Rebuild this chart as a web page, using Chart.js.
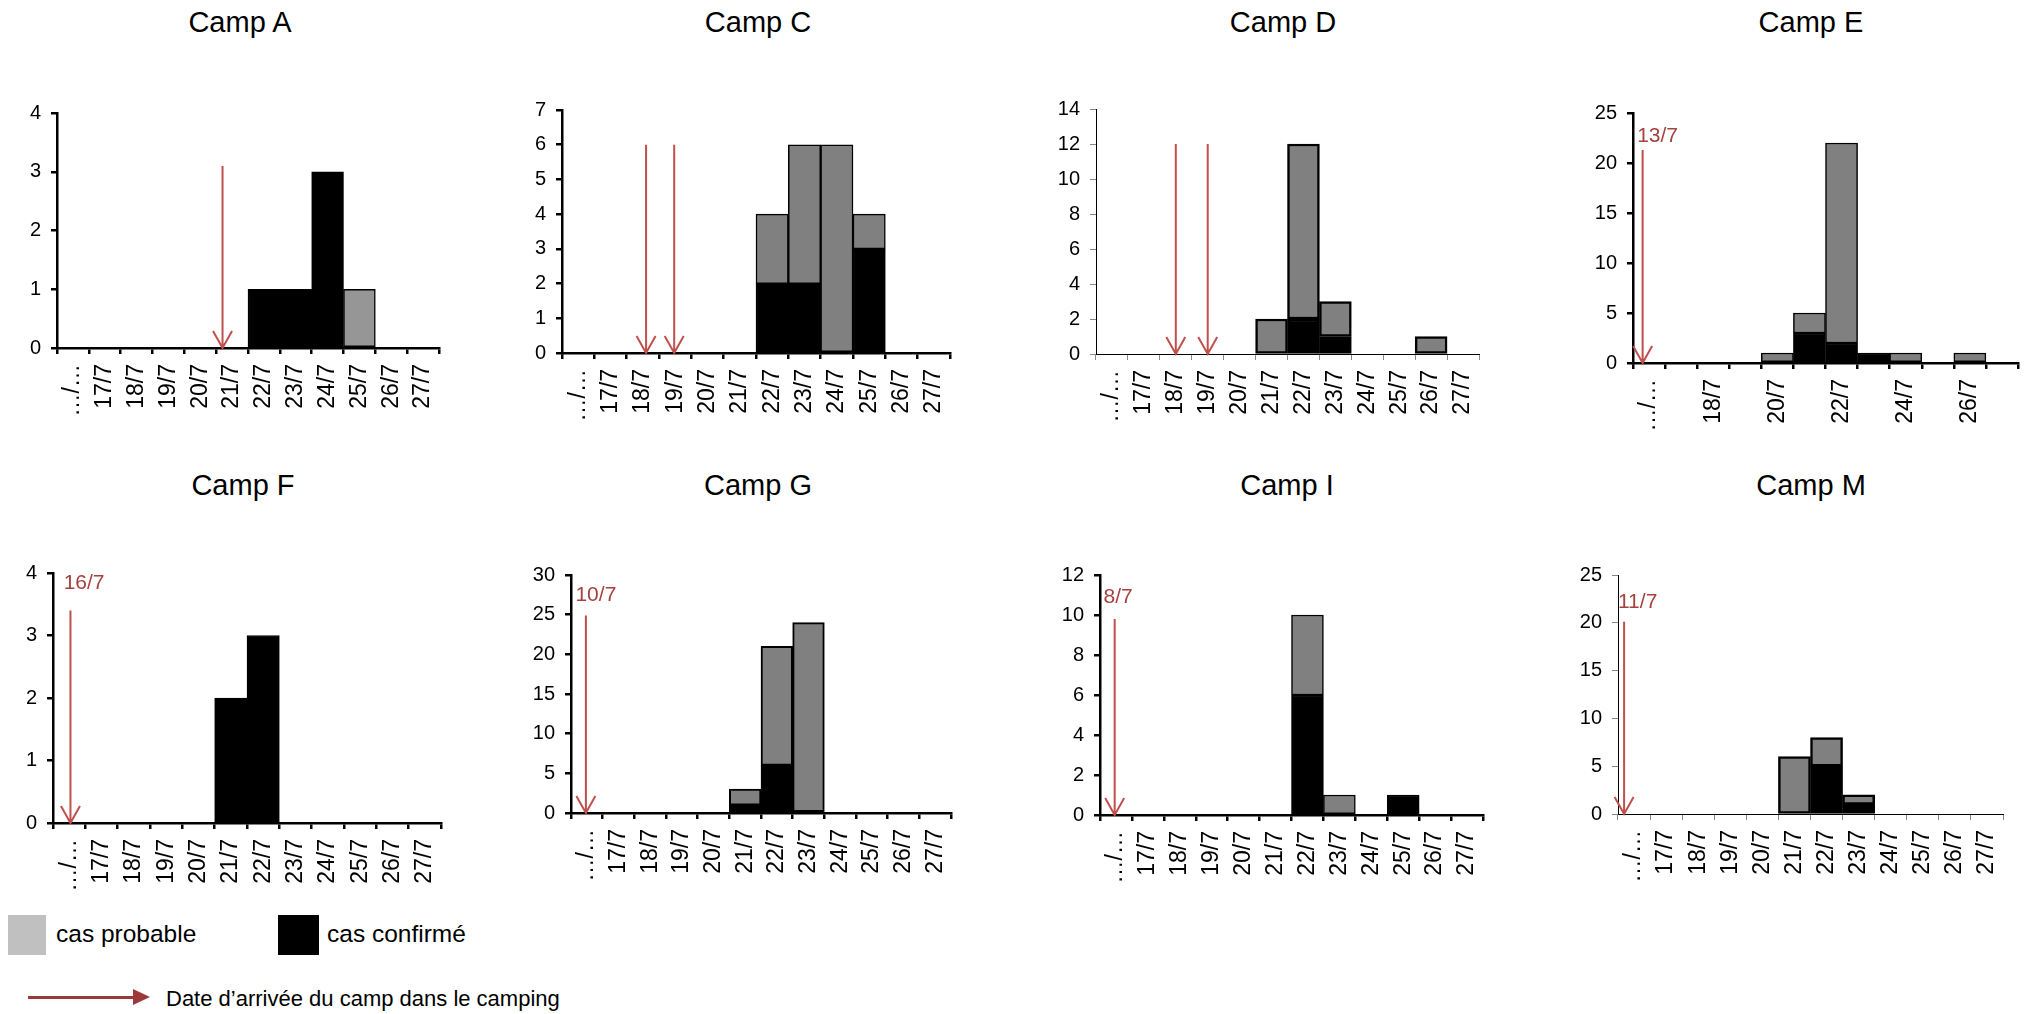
<!DOCTYPE html>
<html lang="fr">
<head>
<meta charset="UTF-8">
<title>Cas par camp</title>
<script src="https://cdn.jsdelivr.net/npm/chart.js"></script>
<style>
  body {
    margin: 0;
    width: 2028px;
    height: 1014px;
    overflow: hidden;
    position: relative;
    background: #fff;
    font-family: 'Liberation Sans', Arial, sans-serif;
  }
  canvas { position: absolute; }
  .title {
    position: absolute; font-size: 29px; line-height: 1; color: #000;
    white-space: nowrap; transform: translateX(-50%);
  }
  .swatch { position: absolute; }
  .lg { position: absolute; line-height: 1; color: #000; white-space: nowrap; }
  .arrowLine { position: absolute; background: #9b3a39; }
  .arrowHead {
    position: absolute; width: 0; height: 0;
    border-top: 8px solid transparent; border-bottom: 8px solid transparent;
    border-left: 17px solid #9b3a39;
  }
</style>
</head>
<body>

<div class="swatch" style="left:8px;top:915px;width:38px;height:40px;background:#c0c0c0"></div>
<div class="lg" style="left:56px;top:922px;font-size:24.5px">cas probable</div>
<div class="swatch" style="left:278px;top:915px;width:41px;height:40px;background:#000"></div>
<div class="lg" style="left:327px;top:922px;font-size:24.5px">cas confirmé</div>
<div class="arrowLine" style="left:28px;top:996px;width:108px;height:3px"></div>
<div class="arrowHead" style="left:133px;top:989px"></div>
<div class="lg" style="left:166px;top:988px;font-size:22px">Date d’arrivée du camp dans le camping</div>

<script>
  const days = ['…/…', '17/7', '18/7', '19/7', '20/7', '21/7', '22/7', '23/7', '24/7', '25/7', '26/7', '27/7'];
  const titles = ['Camp A', 'Camp C', 'Camp D', 'Camp E', 'Camp F', 'Camp G', 'Camp I', 'Camp M'];

  // cases per day, confirmed (black) and probable (grey)
  const confA = [0, 0, 0, 0, 0, 0, 1, 1, 3, 0, 0, 0];
  const probA = [0, 0, 0, 0, 0, 0, 0, 0, 0, 1, 0, 0];
  const confC = [0, 0, 0, 0, 0, 0, 2, 2, 0, 3, 0, 0];
  const probC = [0, 0, 0, 0, 0, 0, 2, 4, 6, 1, 0, 0];
  const confD = [0, 0, 0, 0, 0, 0, 2, 1, 0, 0, 0, 0];
  const probD = [0, 0, 0, 0, 0, 2, 10, 2, 0, 0, 1, 0];
  const confE = [0, 0, 0, 0, 0, 3, 2, 1, 0, 0, 0, 0];
  const probE = [0, 0, 0, 0, 1, 2, 20, 0, 1, 0, 1, 0];
  const confF = [0, 0, 0, 0, 0, 2, 3, 0, 0, 0, 0, 0];
  const probF = [0, 0, 0, 0, 0, 0, 0, 0, 0, 0, 0, 0];
  const confG = [0, 0, 0, 0, 0, 1, 6, 0, 0, 0, 0, 0];
  const probG = [0, 0, 0, 0, 0, 2, 15, 24, 0, 0, 0, 0];
  const confI = [0, 0, 0, 0, 0, 0, 6, 0, 0, 1, 0, 0];
  const probI = [0, 0, 0, 0, 0, 0, 4, 1, 0, 0, 0, 0];
  const confM = [0, 0, 0, 0, 0, 0, 5, 1, 0, 0, 0, 0];
  const probM = [0, 0, 0, 0, 0, 6, 3, 1, 0, 0, 0, 0];

  const confirmed = [confA, confC, confD, confE, confF, confG, confI, confM];
  const probable = [probA, probC, probD, probE, probF, probG, probI, probM];

  const yMax = [4, 7, 14, 25, 4, 30, 12, 25];
  const yStep = [1, 1, 2, 5, 1, 5, 2, 5];
  const labelEvery = [1, 1, 1, 2, 1, 1, 1, 1];

  // arrival arrows, in category index units / case counts
  const arrivalIdx = [[4.7], [2.1, 2.97], [2.0, 3.0], [-0.2], [0.04], [-0.03], [-0.04], [-0.31]];
  const arrivalTop = [3.1, 6, 12, 21.3, 3.4, 24.9, 9.8, 20.1];
  const arrivalText = ['', '', '', '13/7', '16/7', '10/7', '8/7', '11/7'];
  const arrivalTextAt = [null, null, null, [-0.37, 22.7], [-0.17, 3.84], [-0.36, 27.4], [-0.39, 10.9], [-0.5, 22.2]];

  // layout: plot area [left, top, right, bottom] and title centre, page pixels
  const plots = [
    [57, 113, 439, 348], [562, 110, 950, 353], [1096, 109, 1479, 354], [1633, 113, 2018, 363],
    [53, 573, 441, 823], [571, 575, 951, 813], [1100, 575, 1483, 815], [1618, 575, 2003, 814]
  ];
  const titleX = [240, 758, 1283, 1811, 243, 758, 1287, 1811];
  const titleY = [22, 22, 22, 22, 485, 485, 485, 485];
  const rowTop = [0, 0, 0, 0, 440, 440, 440, 440];
  const axisW = [2.5, 2.5, 1, 2.5, 2.5, 2.5, 2.5, 1];
  const edgeW = [1.5, 1.5, 2.5, 1.5, 1, 2, 1.5, 2.5];
  const probColor = ['#969696', '#808080', '#808080', '#808080', '#808080', '#808080', '#808080', '#808080'];

  const FONT = "'Liberation Sans', Arial, sans-serif";
  const NARROW = "'Liberation Sans Narrow', 'Arial Narrow', 'Liberation Sans', sans-serif";
  const Y_W = 50, X_H = 70, PAD_R = 30;

  const arrivalArrows = {
    id: 'arrivalArrows',
    afterDatasetsDraw(chart, args, opts) {
      const { ctx, scales: { x, y } } = chart;
      const tip = y.getPixelForValue(0);
      const top = y.getPixelForValue(opts.top);
      ctx.save();
      ctx.strokeStyle = '#c0504d';
      ctx.lineWidth = 2;
      opts.at.forEach(v => {
        const px = x.getPixelForValue(v);
        ctx.beginPath();
        ctx.moveTo(px, top);
        ctx.lineTo(px, tip);
        ctx.moveTo(px - 9.5, tip - 17);
        ctx.lineTo(px, tip);
        ctx.lineTo(px + 9.5, tip - 17);
        ctx.stroke();
      });
      if (opts.text) {
        ctx.fillStyle = '#a5413f';
        ctx.font = '21px ' + FONT;
        ctx.textBaseline = 'middle';
        ctx.textAlign = 'left';
        ctx.fillText(opts.text, x.getPixelForValue(opts.textAt[0]), y.getPixelForValue(opts.textAt[1]));
      }
      ctx.restore();
    }
  };

  titles.forEach((title, i) => {
    const [L, T, R, B] = plots[i];
    const cLeft = L - Y_W;
    const cW = R - cLeft + PAD_R;
    const cH = B - rowTop[i] + X_H;

    const head = document.createElement('div');
    head.className = 'title';
    head.textContent = title;
    head.style.left = titleX[i] + 'px';
    head.style.top = (titleY[i] - 14) + 'px';
    document.body.appendChild(head);

    const cv = document.createElement('canvas');
    cv.width = cW;
    cv.height = cH;
    cv.style.left = cLeft + 'px';
    cv.style.top = rowTop[i] + 'px';
    document.body.appendChild(cv);

    const tickCol = axisW[i] > 1.5 ? '#000' : '#888';

    new Chart(cv, {
      type: 'bar',
      data: {
        labels: days,
        datasets: [
          { label: 'cas confirmé', data: confirmed[i], backgroundColor: '#000', borderColor: '#000', borderWidth: edgeW[i], borderSkipped: false },
          { label: 'cas probable', data: probable[i], backgroundColor: probColor[i], borderColor: '#000', borderWidth: edgeW[i], borderSkipped: false }
        ]
      },
      options: {
        responsive: false,
        animation: false,
        events: [],
        layout: { padding: { left: 0, right: PAD_R, top: T - rowTop[i], bottom: 0 } },
        datasets: { bar: { barPercentage: 1, categoryPercentage: 1 } },
        plugins: {
          legend: { display: false },
          tooltip: { enabled: false },
          title: { display: false },
          arrivalArrows: {
            at: arrivalIdx[i],
            top: arrivalTop[i],
            text: arrivalText[i],
            textAt: arrivalTextAt[i]
          }
        },
        scales: {
          x: {
            stacked: true,
            grid: { drawOnChartArea: false, tickLength: 6, color: tickCol, lineWidth: axisW[i] },
            border: { color: '#000', width: axisW[i] },
            ticks: {
              autoSkip: false,
              minRotation: 90,
              maxRotation: 90,
              padding: 10,
              color: '#000',
              font: { family: NARROW, size: 23 },
              callback: (v, idx) => (idx % labelEvery[i] === 0 ? days[idx] : '')
            },
            afterFit: s => { s.height = X_H; }
          },
          y: {
            stacked: true,
            min: 0,
            max: yMax[i],
            grid: { drawOnChartArea: false, tickLength: 6, color: tickCol, lineWidth: axisW[i] },
            border: { color: '#000', width: axisW[i] },
            ticks: { stepSize: yStep[i], padding: 10, color: '#000', font: { family: FONT, size: 20 } },
            afterFit: s => { s.width = Y_W; }
          }
        }
      },
      plugins: [arrivalArrows]
    });
  });
</script>
</body>
</html>
